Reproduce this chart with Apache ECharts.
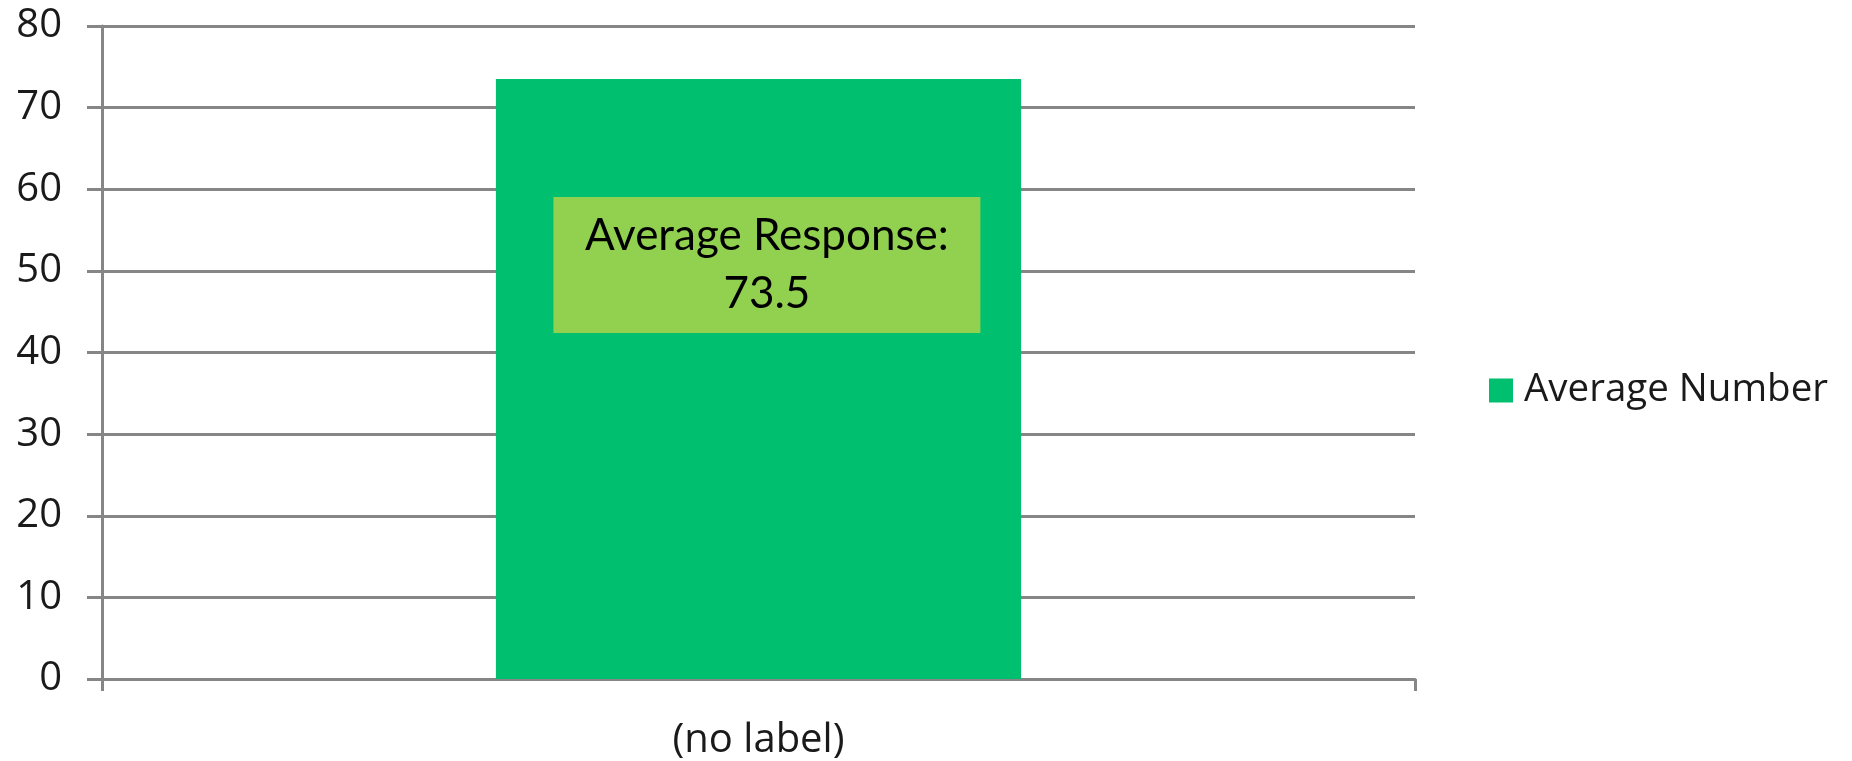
<!DOCTYPE html>
<html><head><meta charset="utf-8">
<script src="https://cdn.jsdelivr.net/npm/echarts@6/dist/echarts.min.js"></script>
<style>html,body{margin:0;padding:0;background:#fff}#c{width:1852px;height:761px}</style>
</head><body><div id="c"></div>
<script>
const categories = ['(no label)'];
const seriesName = 'Average Number';
const values = [73.5];
const annotationText = 'Average Response:\n73.5';
const yTicks = {min: 0, max: 80, interval: 10};

const chart = echarts.init(document.getElementById('c'));
const axisFont = 'Open Sans';
chart.setOption({
  animation: false,
  grid: {left: 102, right: 437, top: 26, bottom: 79, containLabel: false},
  legend: {
    data: [seriesName], left: 1484, top: 366, icon: 'rect', itemWidth: 24, itemHeight: 24,
    textStyle: {fontFamily: axisFont, fontSize: 38.5, color: '#1a1a1a', padding: [0, 0, 0, 6]}
  },
  xAxis: {
    type: 'category', data: categories, boundaryGap: true,
    axisLine: {lineStyle: {color: '#868686', width: 3}},
    axisTick: {show: true, length: 12, lineStyle: {color: '#868686', width: 3}},
    axisLabel: {fontFamily: axisFont, fontSize: 40, color: '#1a1a1a', margin: 42}
  },
  yAxis: {
    type: 'value', min: yTicks.min, max: yTicks.max, interval: yTicks.interval,
    axisLine: {show: true, lineStyle: {color: '#868686', width: 3}},
    axisTick: {show: true, length: 15, lineStyle: {color: '#868686', width: 3}},
    splitLine: {lineStyle: {color: '#868686', width: 3}},
    axisLabel: {fontFamily: axisFont, fontSize: 40, color: '#1a1a1a', margin: 40}
  },
  series: [{
    name: seriesName, type: 'bar', data: values, barWidth: '40%',
    itemStyle: {color: '#00BF6F'},
    label: {
      show: true, formatter: annotationText,
      position: [271, 118], align: 'center', verticalAlign: 'top',
      fontFamily: 'Lato', fontSize: 44, lineHeight: 58, color: '#000',
      backgroundColor: '#92D050', width: 427, padding: [10, 0, 10, 0]
    }
  }]
});
</script></body></html>
